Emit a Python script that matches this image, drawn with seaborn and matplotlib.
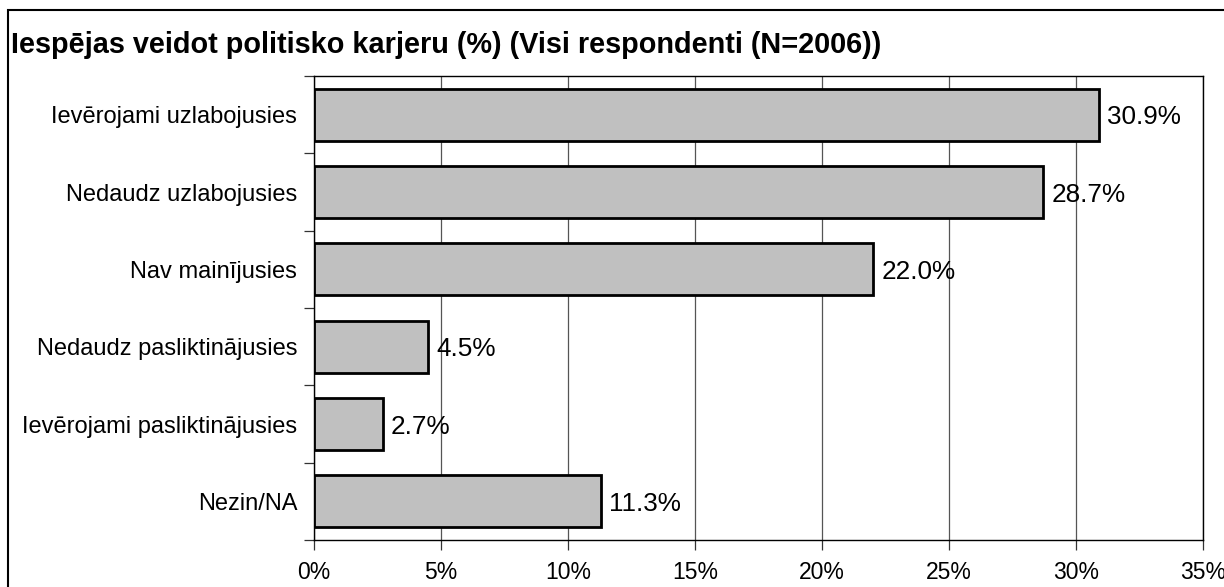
import matplotlib
matplotlib.use('Agg')
import matplotlib.pyplot as plt
import seaborn as sns
import pandas as pd
from matplotlib.patches import Rectangle
from matplotlib.ticker import FuncFormatter, MultipleLocator, FixedLocator

categories = [
    'Ievērojami uzlabojusies',
    'Nedaudz uzlabojusies',
    'Nav mainījusies',
    'Nedaudz pasliktinājusies',
    'Ievērojami pasliktinājusies',
    'Nezin/NA',
]
values = [30.9, 28.7, 22.0, 4.5, 2.7, 11.3]
title = 'Iespējas veidot politisko karjeru (%) (Visi respondenti (N=2006))'

df = pd.DataFrame({'Atbilde': categories, 'Procenti': values})

sns.set_theme(style='white')
plt.rcParams['font.family'] = ['Liberation Sans', 'DejaVu Sans']

fig = plt.figure(figsize=(12.24, 5.87), dpi=100)
W, H = 1224, 587
ax = fig.add_axes([314 / W, 1 - 540 / H, (1203 - 314) / W, (540 - 76) / H])

sns.barplot(data=df, x='Procenti', y='Atbilde', orient='h', color='#c0c0c0',
            edgecolor='black', linewidth=2, width=0.67, saturation=1, ax=ax)

ax.set_xlim(0, 35)
ax.set_ylim(5.5, -0.5)
ax.xaxis.set_major_locator(MultipleLocator(5))
ax.xaxis.set_major_formatter(FuncFormatter(lambda v, p: f'{v:.0f}%'))
ax.grid(axis='x', color='#555555', linewidth=0.9)
ax.set_axisbelow(True)
for s in ax.spines.values():
    s.set_color('black')
    s.set_linewidth(1.0)

ax.set_xlabel('')
ax.set_ylabel('')
ax.tick_params(axis='x', bottom=True, length=7, width=0.9, color='#333333',
               labelsize=16.5, pad=8, labelcolor='black')
ax.tick_params(axis='y', left=False, labelsize=17, pad=6, labelcolor='black')
# boundary ticks between categories on the y axis
ax.yaxis.set_minor_locator(FixedLocator([i + 0.5 for i in range(-1, len(categories))]))
ax.tick_params(axis='y', which='minor', left=True, length=7, width=0.9, color='#333333')

for i, v in enumerate(values):
    ax.annotate(f'{v:.1f}%', xy=(v, i), xytext=(6, 0), textcoords='offset points',
                va='center_baseline', ha='left', fontsize=18.8, color='black')

fig.text(11 / W, 1 - 53 / H, title, fontsize=20.8, fontweight='bold', color='black',
         ha='left', va='baseline')

fig.patches.append(Rectangle((8 / W, -0.1), 1.2, 1.1 - 10 / H, transform=fig.transFigure,
                             fill=False, edgecolor='black', linewidth=1.5, figure=fig))

fig.savefig('out.png', dpi=100)
